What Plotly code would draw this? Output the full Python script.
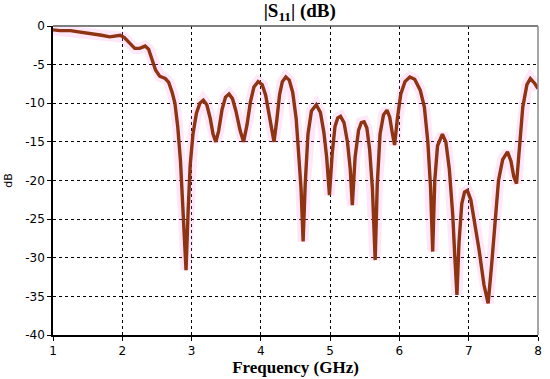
import plotly.graph_objects as go

freq_ghz = [
    1.00, 1.10, 1.25, 1.40, 1.58, 1.70, 1.82, 1.92, 1.97, 2.03, 2.10, 2.18, 2.25, 2.33, 2.38,
    2.43, 2.48, 2.54, 2.62, 2.67, 2.72, 2.76, 2.80, 2.84, 2.88, 2.92, 2.95, 2.98, 3.02, 3.07,
    3.12, 3.17, 3.22, 3.27, 3.31, 3.35, 3.39, 3.44, 3.49, 3.54, 3.59, 3.64, 3.70, 3.75, 3.80,
    3.85, 3.90, 3.96, 4.02, 4.07, 4.12, 4.16, 4.19, 4.23, 4.27, 4.31, 4.36, 4.41, 4.46, 4.51,
    4.55, 4.58, 4.61, 4.64, 4.68, 4.73, 4.80, 4.86, 4.91, 4.95, 4.99, 5.03, 5.07, 5.11, 5.15,
    5.20, 5.25, 5.29, 5.32, 5.36, 5.41, 5.45, 5.49, 5.53, 5.57, 5.61, 5.65, 5.68, 5.72, 5.77,
    5.82, 5.86, 5.90, 5.93, 5.97, 6.02, 6.08, 6.15, 6.22, 6.30, 6.36, 6.41, 6.45, 6.48, 6.51,
    6.55, 6.62, 6.67, 6.72, 6.77, 6.80, 6.83, 6.86, 6.90, 6.94, 6.98, 7.03, 7.09, 7.15, 7.22,
    7.28, 7.33, 7.38, 7.43, 7.49, 7.56, 7.61, 7.65, 7.69, 7.73, 7.78, 7.84, 7.89, 7.95, 8.00,
]
s11_db = [
    -0.5, -0.6, -0.6, -0.8, -0.95, -1.2, -1.4, -1.2, -1.2, -1.5, -2.2, -2.9, -2.9, -2.6, -3.0,
    -4.2, -5.7, -6.5, -6.8, -7.3, -8.6, -10.0, -13.0, -17.5, -24.0, -31.6, -24.0, -18.0, -14.0, -11.3,
    -10.0, -9.6, -10.2, -12.0, -14.0, -15.0, -13.6, -10.8, -9.2, -8.8, -9.4, -11.0, -13.5, -15.0, -12.8,
    -9.8, -7.9, -7.2, -7.6, -9.0, -11.5, -13.8, -15.0, -12.2, -8.9, -7.2, -6.6, -7.0, -8.6, -12.0,
    -16.5, -21.0, -27.9, -20.5, -14.0, -11.0, -10.2, -11.2, -13.8, -17.0, -21.9, -16.5, -13.0, -11.9, -11.7,
    -12.5, -15.0, -18.5, -23.2, -17.0, -13.5, -12.5, -12.4, -13.2, -16.0, -21.0, -30.3, -20.5, -14.0, -11.5,
    -10.9, -11.8, -14.0, -15.4, -12.0, -8.8, -7.2, -6.6, -6.9, -8.3, -10.5, -15.0, -21.0, -29.2, -20.0,
    -15.5, -14.0, -15.0, -18.5, -24.5, -30.0, -34.8, -28.0, -23.0, -21.5, -21.3, -22.5, -25.5, -29.0, -33.5,
    -35.9, -31.0, -25.0, -20.0, -17.3, -16.3, -17.5, -19.5, -20.4, -16.0, -10.5, -7.6, -6.8, -7.4, -8.1,
]
x_ticks = [1, 2, 3, 4, 5, 6, 7, 8]
y_ticks = [0, -5, -10, -15, -20, -25, -30, -35, -40]

fig = go.Figure()
fig.add_trace(go.Scatter(
    x=freq_ghz, y=s11_db, mode="lines",
    line=dict(color="rgba(255,120,230,0.18)", width=11),
    hoverinfo="skip", showlegend=False,
))
fig.add_trace(go.Scatter(
    x=freq_ghz, y=s11_db, mode="lines",
    line=dict(color="#8E3412", width=3.4),
    showlegend=False,
))

axis_common = dict(
    showgrid=True, gridcolor="#000000", gridwidth=1, griddash="dot",
    showline=True, linecolor="#000000", linewidth=1.5,
    ticks="outside", ticklen=4, tickcolor="#000000",
    tickfont=dict(family="DejaVu Sans", size=12, color="#000000"),
    zeroline=False, automargin=False,
)

fig.update_layout(
    width=550, height=379,
    margin=dict(l=53, r=12, t=26, b=44),
    paper_bgcolor="white", plot_bgcolor="white",
    title=dict(
        text="<b>|S<sub>11</sub>| (dB)</b>",
        x=0.545, xanchor="center", y=0.972, yanchor="middle",
        font=dict(family="Liberation Serif", size=19, color="#000000"),
        automargin=False,
    ),
    xaxis=dict(
        range=[1, 8], tickvals=x_ticks, ticktext=[str(v) for v in x_ticks],
        title=dict(text="<b>Frequency (GHz)</b>", standoff=4,
                   font=dict(family="Liberation Serif", size=17, color="#000000")),
        **axis_common,
    ),
    yaxis=dict(
        range=[-40, 0], tickvals=y_ticks, ticktext=[str(v) for v in y_ticks],
        title=dict(text="dB", standoff=10,
                   font=dict(family="DejaVu Sans", size=11, color="#000000")),
        **axis_common,
    ),
    shapes=[
        dict(type="line", xref="paper", yref="paper", x0=0, x1=1, y0=1, y1=1,
             line=dict(color="#555555", width=1.5)),
        dict(type="line", xref="paper", yref="paper", x0=1, x1=1, y0=0, y1=1,
             line=dict(color="#888888", width=1.5)),
    ],
)

fig.write_html("out.html", config={"displayModeBar": False},
               post_script="document.body.style.margin='0';")
